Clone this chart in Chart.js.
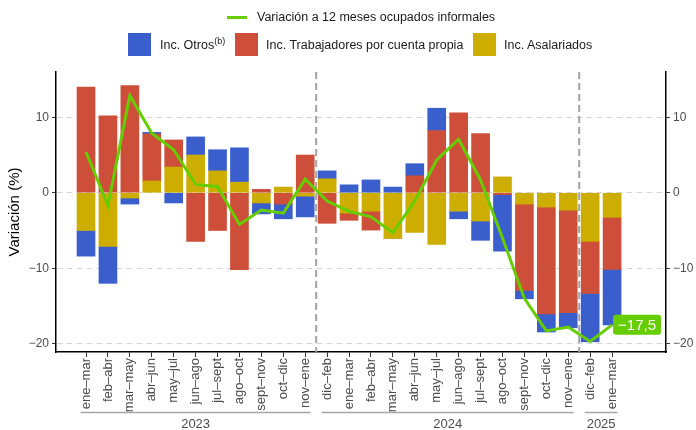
<!DOCTYPE html>
<html>
<head>
<meta charset="utf-8">
<script src="https://cdn.jsdelivr.net/npm/chart.js@4.4.1/dist/chart.umd.min.js"></script>
<style>
  body { margin: 0; background: #fff; font-family: "Liberation Sans", Arial, sans-serif; }
  #wrap { position: relative; width: 696px; height: 430px; }
  #wrap canvas { position: absolute; left: 0; top: 0; }
  .leg { position: absolute; font-size: 12.5px; color: #1a1a1a; white-space: nowrap; line-height: 1; }
  .sw { position: absolute; width: 23px; height: 23px; }
  sup { font-size: 9px; vertical-align: 5px; line-height: 0; }
</style>
</head>
<body>
<div id="wrap">
  <canvas id="chart" width="696" height="430"></canvas>
  <div style="position:absolute;left:227px;top:16px;width:20px;height:3px;background:#66CD00"></div>
  <div class="leg" style="left:257px;top:11px">Variación a 12 meses ocupados informales</div>
  <div class="sw" style="left:128px;top:33px;background:#3A5FCD"></div>
  <div class="leg" style="left:160px;top:39px">Inc. Otros<sup>(b)</sup></div>
  <div class="sw" style="left:235px;top:33px;background:#CD4F39"></div>
  <div class="leg" style="left:266px;top:39px">Inc. Trabajadores por cuenta propia</div>
  <div class="sw" style="left:473px;top:33px;background:#CDAD00"></div>
  <div class="leg" style="left:504px;top:39px">Inc. Asalariados</div>
</div>
<script>
// ---------- data ----------
const periods = ['ene–mar', 'feb–abr', 'mar–may', 'abr–jun', 'may–jul', 'jun–ago', 'jul–sept', 'ago–oct', 'sept–nov', 'oct–dic', 'nov–ene',
                 'dic–feb', 'ene–mar', 'feb–abr', 'mar–may', 'abr–jun', 'may–jul', 'jun–ago', 'jul–sept', 'ago–oct', 'sept–nov', 'oct–dic', 'nov–ene',
                 'dic–feb', 'ene–mar'];
const yearLabels = ['2023', '2024', '2025'];
const yearFrom = [0, 11, 23];
const yearTo = [10, 22, 24];
const asalariados = [-5.0, -7.1, -0.7, 1.55, 3.4, 5.0, 2.9, 1.4, -1.35, 0.75, -0.45,
                     1.85, -2.7, -2.45, -6.05, -5.25, -6.85, -2.45, -3.75, 2.1, -1.5, -1.9, -2.3,
                     -6.45, -3.25];
const cuentaPropia = [14.0, 10.2, 14.2, 6.25, 3.6, -6.45, -5.0, -10.2, 0.45, -1.5, 5.0,
                      -4.05, -0.95, -2.5, 0, 2.25, 8.25, 10.6, 7.85, -0.25, -11.45, -14.15, -13.6,
                      -6.9, -6.9];
const otros = [-3.4, -4.9, -0.8, 0.2, -1.35, 2.4, 2.8, 4.55, -1.45, -1.95, -2.75,
               1.05, 1.05, 1.7, 0.75, 1.6, 2.95, -1.0, -2.55, -7.5, -1.1, -2.4, -2.0,
               -6.4, -7.35];
const variacion = [5.4, -1.7, 12.9, 7.9, 5.7, 1.1, 0.8, -4.2, -2.3, -2.7, 1.8,
                   -1.1, -2.45, -3.2, -5.3, -1.1, 4.35, 7.1, 1.7, -6.0, -14.0, -18.3, -17.8,
                   -19.7, -17.5];
const yTicks = [-20, -10, 0, 10];
const yearBreaks = [10.5, 22.5];

const GREEN = '#66CD00';
Chart.defaults.font.family = '"Liberation Sans", Arial, sans-serif';

const pts = arr => arr.map((v, i) => ({ x: i, y: v }));
const fmt = v => (v < 0 ? '−' + Math.abs(v) : String(v));

const bar = (label, data, color) => ({
    type: 'bar', label, data: pts(data), backgroundColor: color,
    borderWidth: 0, barThickness: 18, order: 1, yAxisID: 'y'
});

// dashed separators between years
const separators = {
    id: 'separators',
    beforeDatasetsDraw(chart) {
        const { ctx, chartArea, scales: { x } } = chart;
        ctx.save();
        ctx.strokeStyle = '#a3a3a3';
        ctx.lineWidth = 2;
        ctx.setLineDash([7, 4]);
        yearBreaks.forEach(v => {
            const px = x.getPixelForValue(v);
            ctx.beginPath();
            ctx.moveTo(px, chartArea.top);
            ctx.lineTo(px, chartArea.bottom);
            ctx.stroke();
        });
        ctx.restore();
    }
};

// year brackets under the period labels
const yearAxis = {
    id: 'yearAxis',
    afterDraw(chart) {
        const { ctx, scales: { x } } = chart;
        ctx.save();
        ctx.strokeStyle = '#a6a6a6';
        ctx.lineWidth = 1.5;
        ctx.fillStyle = '#4d4d4d';
        ctx.font = '13px "Liberation Sans", Arial, sans-serif';
        ctx.textAlign = 'center';
        ctx.textBaseline = 'middle';
        yearLabels.forEach((lab, i) => {
            const x1 = x.getPixelForValue(yearFrom[i] - 0.25);
            const x2 = x.getPixelForValue(yearTo[i] + 0.25);
            ctx.beginPath();
            ctx.moveTo(x1, 412.5);
            ctx.lineTo(x2, 412.5);
            ctx.stroke();
            ctx.fillText(lab, (x1 + x2) / 2, 424);
        });
        ctx.restore();
    }
};

// value tag at the last point of the line
const endLabel = {
    id: 'endLabel',
    afterDatasetsDraw(chart) {
        const meta = chart.getDatasetMeta(0);
        const p = meta.data[meta.data.length - 1];
        const { ctx } = chart;
        const txt = fmt(variacion[variacion.length - 1]).replace('.', ',');
        ctx.save();
        ctx.fillStyle = GREEN;
        ctx.beginPath();
        ctx.roundRect(p.x + 1, p.y - 10, 48, 20, 3);
        ctx.fill();
        ctx.fillStyle = '#fff';
        ctx.font = '15px "Liberation Sans", Arial, sans-serif';
        ctx.textAlign = 'center';
        ctx.textBaseline = 'middle';
        ctx.fillText(txt, p.x + 25, p.y + 1);
        ctx.restore();
    }
};

const yCommon = {
    min: -21.1, max: 16,
    afterBuildTicks: s => { s.ticks = yTicks.map(v => ({ value: v })); },
    ticks: { color: '#4d4d4d', font: { size: 12 }, padding: 3, callback: v => fmt(v) },
    border: { display: true, color: '#000', width: 1.5, dash: [6, 4] }
};

new Chart(document.getElementById('chart'), {
    data: {
        datasets: [
            {
                type: 'line', label: 'Variación a 12 meses ocupados informales', data: pts(variacion),
                borderColor: GREEN, borderWidth: 3, pointRadius: 0, tension: 0, order: 0, yAxisID: 'y2'
            },
            bar('Inc. Asalariados', asalariados, '#CDAD00'),
            bar('Inc. Trabajadores por cuenta propia', cuentaPropia, '#CD4F39'),
            bar('Inc. Otros', otros, '#3A5FCD')
        ]
    },
    options: {
        responsive: false,
        animation: false,
        layout: { padding: { top: 72, left: 0, right: 0, bottom: 0 } },
        plugins: { legend: { display: false }, tooltip: { enabled: false } },
        scales: {
            x: {
                type: 'linear', stacked: true, offset: false, min: -1.37, max: 26.46,
                afterBuildTicks: s => { s.ticks = periods.map((_, i) => ({ value: i })); },
                afterFit: s => { s.height = 78; },
                ticks: {
                    color: '#4d4d4d', font: { size: 13 }, padding: 1, autoSkip: false,
                    minRotation: 90, maxRotation: 90, callback: v => periods[v]
                },
                grid: { offset: false, drawOnChartArea: false, drawTicks: true, tickLength: 5, tickColor: '#333', tickWidth: 1 },
                border: { display: true, color: '#000', width: 1.5 }
            },
            y: {
                ...yCommon, position: 'left', stacked: true,
                afterFit: s => { s.width = 56; },
                title: { display: true, text: 'Variación (%)', color: '#000', font: { size: 15 }, padding: { top: 6, bottom: 0 } },
                grid: { color: '#d6d6d6', lineWidth: 1, drawTicks: true, tickLength: 4, tickColor: '#333', tickWidth: 1 }
            },
            y2: {
                ...yCommon, position: 'right', stacked: false,
                afterFit: s => { s.width = 30; },
                grid: { drawOnChartArea: false, drawTicks: true, tickLength: 4, tickColor: '#333', tickWidth: 1 }
            }
        }
    },
    plugins: [separators, yearAxis, endLabel]
});
</script>
</body>
</html>
